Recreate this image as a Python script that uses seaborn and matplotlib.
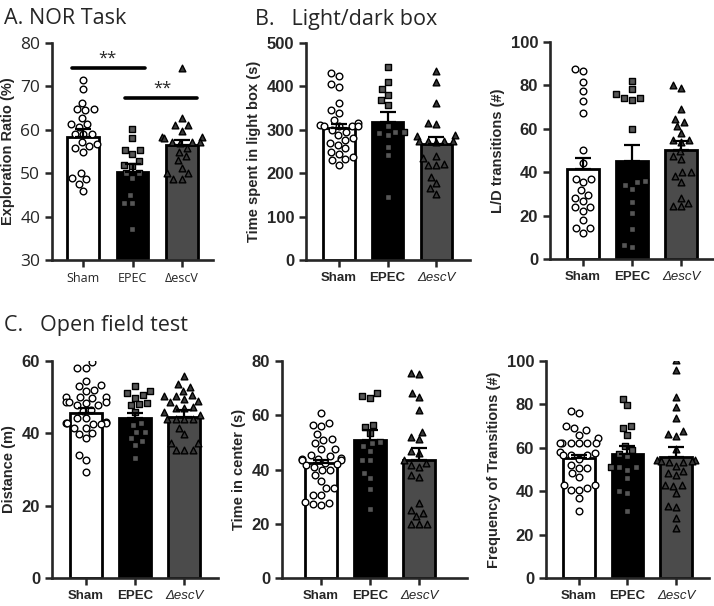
import matplotlib
matplotlib.use("Agg")
import matplotlib.pyplot as plt
import seaborn as sns

groups = ["Sham", "EPEC", "ΔescV"]

# A. NOR task - exploration ratio (%)
nor_sham = [66.2, 64.5, 61.4, 59.1, 57.2, 55.7, 48.8, 71.4, 69.3, 64.7, 60.7, 59.1,
            56.8, 54.9, 47.6, 46.0, 64.7, 62.8, 61.3, 59.1, 56.2, 50.1, 48.6]
nor_epec = [60.1, 58.1, 54.5, 51.9, 48.8, 45.0, 43.2, 37.1, 55.3, 51.7, 50.1, 43.2,
            55.3, 52.9, 50.1]
nor_escv = [74.2, 62.8, 61.0, 61.0, 59.8, 58.4, 58.4, 58.0, 57.3, 57.3, 57.3, 57.0,
            55.8, 55.0, 53.9, 53.0, 51.3, 50.0, 50.0, 48.7, 48.7]
nor_means = [58.4, 50.2, 56.4]
nor_sem = [1.7, 1.9, 1.2]

# B. Light/dark box - time in light box (s)
light_sham = [432, 424, 405, 398, 362, 346, 338, 323, 316, 311, 309, 309, 309, 308,
              300, 296, 288, 282, 276, 270, 265, 257, 250, 245, 238, 232, 230, 219]
light_epec = [444, 411, 393, 380, 369, 357, 309, 296, 296, 292, 288, 261, 242, 146]
light_escv = [436, 411, 361, 316, 314, 287, 285, 275, 275, 275, 275, 272, 240, 234,
              222, 219, 219, 192, 177, 165, 152]
light_means = [303, 318, 267]
light_sem = [10, 22, 17]

# B. Light/dark box - L/D transitions (#)
ld_sham = [87.5, 86.5, 81.6, 77.2, 72.6, 67.3, 50.4, 44.2, 37.0, 37.0, 35.5, 31.9,
           29.6, 28.1, 26.6, 24.0, 24.0, 22.3, 18.1, 14.3, 14.3, 12.0]
ld_epec = [82.2, 78.3, 76.0, 74.2, 74.2, 73.5, 60.0, 36.1, 35.5, 34.2, 32.4, 26.3,
           21.2, 14.0, 6.3, 5.4]
ld_escv = [80.3, 78.8, 69.3, 64.7, 63.0, 61.1, 57.9, 55.0, 55.0, 53.9, 49.9, 47.5,
           46.2, 40.1, 40.1, 38.1, 35.5, 28.1, 26.0, 24.2, 24.2]
ld_means = [41.5, 45.2, 50.4]
ld_sem = [5.2, 7.2, 3.8]

# C. Open field - distance (m)
dist_sham = [59.6, 58.1, 58.1, 54.5, 53.4, 53.0, 52.0, 51.8, 50.1, 50.1, 50.0, 49.8,
             48.8, 48.8, 48.6, 48.4, 47.9, 47.9, 46.5, 46.3, 44.2, 44.2, 43.0, 42.9,
             42.8, 42.8, 42.7, 42.6, 41.6, 41.4, 40.0, 39.8, 38.6, 34.0, 32.7, 29.4]
dist_epec = [53.2, 51.1, 51.7, 50.6, 49.9, 48.3, 48.0, 47.7, 45.8, 42.8, 42.3, 40.3,
             40.3, 38.7, 37.9, 36.8, 33.1]
dist_escv = [55.9, 53.6, 52.9, 51.8, 50.5, 50.2, 50.2, 49.6, 48.9, 48.7, 47.3, 47.1,
             47.1, 45.9, 45.2, 44.1, 44.1, 44.1, 44.1, 41.6, 39.8, 37.3, 37.2, 35.5,
             35.4, 35.4]
dist_means = [45.6, 44.2, 44.6]
dist_sem = [1.3, 1.4, 1.9]

# C. Open field - time in center (s)
center_sham = [61.0, 57.0, 56.5, 56.0, 53.1, 51.2, 51.0, 49.7, 47.5, 47.5, 45.4, 45.0,
               44.2, 44.0, 43.8, 43.6, 43.4, 42.5, 42.0, 41.7, 41.0, 40.0, 39.8, 38.0,
               35.9, 33.1, 33.0, 30.7, 30.5, 28.0, 27.8, 27.2, 27.0]
center_epec = [68.1, 67.1, 66.3, 56.4, 55.8, 53.5, 50.3, 49.9, 48.5, 47.0, 43.6, 43.6,
               38.7, 36.8, 32.8, 25.5]
center_escv = [75.5, 75.2, 68.1, 66.6, 62.0, 54.0, 52.1, 51.2, 47.0, 46.2, 43.6, 42.5,
               41.7, 41.1, 38.0, 37.4, 27.6, 25.1, 23.9, 22.7, 20.0, 20.0, 20.0]
center_means = [42.3, 50.9, 43.6]
center_sem = [1.3, 3.7, 4.3]

# C. Open field - frequency of transitions (#)
freq_sham = [77.0, 75.9, 70.2, 69.0, 68.0, 66.0, 64.4, 62.1, 62.1, 62.1, 62.1, 62.1,
             62.1, 58.0, 57.5, 56.7, 56.7, 56.7, 55.0, 52.1, 50.6, 50.6, 48.3, 46.5,
             42.9, 42.9, 41.5, 40.6, 40.6, 36.8, 31.0]
freq_epec = [82.5, 79.5, 70.2, 69.0, 66.0, 61.0, 59.0, 57.0, 56.0, 51.0, 51.0, 51.0,
             50.0, 46.0, 40.2, 39.1, 31.0]
freq_escv = [100.5, 95.9, 83.6, 79.0, 73.9, 67.8, 66.5, 65.5, 59.5, 54.5, 54.5, 54.0,
             54.0, 53.5, 53.5, 51.5, 49.5, 48.5, 47.5, 43.0, 43.0, 42.5, 39.0, 33.0,
             32.5, 27.6, 23.0]
freq_means = [55.2, 57.2, 55.7]
freq_sem = [1.5, 3.4, 4.6]

bar_colors = ["white", "black", "#4b4b4b"]
markers = ["o", "s", "^"]
marker_faces = ["white", "#565656", "#383838"]

sns.set_style("ticks")
plt.rcParams["font.family"] = ["Liberation Sans", "DejaVu Sans"]
plt.rcParams["axes.linewidth"] = 1.9

W, H = 714, 606
fig = plt.figure(figsize=(W / 100, H / 100), dpi=100)


def make_axes(left, top, right, bottom):
    return fig.add_axes([left / W, 1 - bottom / H, (right - left) / W, (bottom - top) / H])


def panel(ax, points, means, sems, ylim, step, ylabel, xlim, bold=True):
    sns.barplot(x=groups, y=means, order=groups, hue=groups, palette=bar_colors,
                legend=False, width=0.64, edgecolor="black", linewidth=2,
                errorbar=None, ax=ax, zorder=1)
    for i, g in enumerate(groups):
        sns.swarmplot(x=[g] * len(points[i]), y=points[i], order=groups,
                      marker=markers[i], color=marker_faces[i], edgecolor="black",
                      linewidth=1, size=4.8, ax=ax, zorder=3, warn_thresh=1)
    ax.errorbar(range(3), means, yerr=[[0, 0, 0], sems], fmt="none", ecolor="black",
                elinewidth=1.6, capsize=5.5, capthick=1.6, zorder=4)
    ax.set_ylim(*ylim)
    ax.set_xlim(*xlim)
    sns.despine(ax=ax)
    ax.tick_params(axis="both", direction="out", length=5, width=1.8)
    ax.set_xlabel("")
    ax.set_ylabel(ylabel, fontsize=10.5, fontweight="bold", labelpad=4)
    yt = list(range(ylim[0], ylim[1] + 1, step))
    ax.set_yticks(yt)
    ax.set_xticks(range(3))
    if bold:
        ax.set_yticklabels([str(v) for v in yt])
        ax.set_xticklabels(groups)
        ax.tick_params(axis="y", labelsize=12)
        ax.tick_params(axis="x", labelsize=9.5)
        plt.setp(ax.get_yticklabels(), fontweight="bold", family="Liberation Sans")
        plt.setp(ax.get_xticklabels()[:2], fontweight="bold", family="Liberation Sans")
        plt.setp(ax.get_xticklabels()[2], fontstyle="italic", family="Liberation Sans")
    else:
        ax.set_yticklabels([str(v) for v in yt])
        ax.set_xticklabels(groups)
        ax.tick_params(axis="y", labelsize=12.5)
        ax.tick_params(axis="x", labelsize=9)
        plt.setp(ax.get_yticklabels() + ax.get_xticklabels(), family="Open Sans")


# A. NOR task
axA = make_axes(52, 43, 213, 260)
panel(axA, [nor_sham, nor_epec, nor_escv], nor_means, nor_sem, (30, 80), 10,
      "Exploration Ratio (%)", (-0.63, 2.63), bold=False)
axA.plot([-0.22, 1.25], [74.3, 74.3], color="black", lw=2.6, zorder=5)
axA.text(0.5, 74.6, "**", ha="center", va="bottom", fontsize=12, family="Open Sans")
axA.plot([0.85, 2.3], [67.3, 67.3], color="black", lw=2.6, zorder=5)
axA.text(1.6, 67.6, "**", ha="center", va="bottom", fontsize=12, family="Open Sans")

# B. Light/dark box
axB1 = make_axes(306, 43, 470, 260)
panel(axB1, [light_sham, light_epec, light_escv], light_means, light_sem, (0, 500), 100,
      "Time spent in light box (s)", (-0.68, 2.70))

axB2 = make_axes(550, 42, 713, 259)
panel(axB2, [ld_sham, ld_epec, ld_escv], ld_means, ld_sem, (0, 100), 20,
      "L/D transitions (#)", (-0.67, 2.65))

# C. Open field test
axC1 = make_axes(52, 361, 218, 578)
panel(axC1, [dist_sham, dist_epec, dist_escv], dist_means, dist_sem, (0, 60), 20,
      "Distance (m)", (-0.69, 2.69))

axC2 = make_axes(282, 361, 467, 578)
panel(axC2, [center_sham, center_epec, center_escv], center_means, center_sem, (0, 80), 20,
      "Time in center (s)", (-0.80, 2.98))

axC3 = make_axes(546, 361, 709, 578)
panel(axC3, [freq_sham, freq_epec, freq_escv], freq_means, freq_sem, (0, 100), 20,
      "Frequency of Transitions (#)", (-0.68, 2.68))

fig.text(4 / W, 1 - 19 / H, "A. NOR Task", fontsize=15.5, family="Open Sans", va="center")
fig.text(255 / W, 1 - 19 / H, "B.   Light/dark box", fontsize=15.5, family="Open Sans", va="center")
fig.text(4 / W, 1 - 326 / H, "C.   Open field test", fontsize=15.5, family="Open Sans", va="center")

fig.savefig("out.png", dpi=100)
